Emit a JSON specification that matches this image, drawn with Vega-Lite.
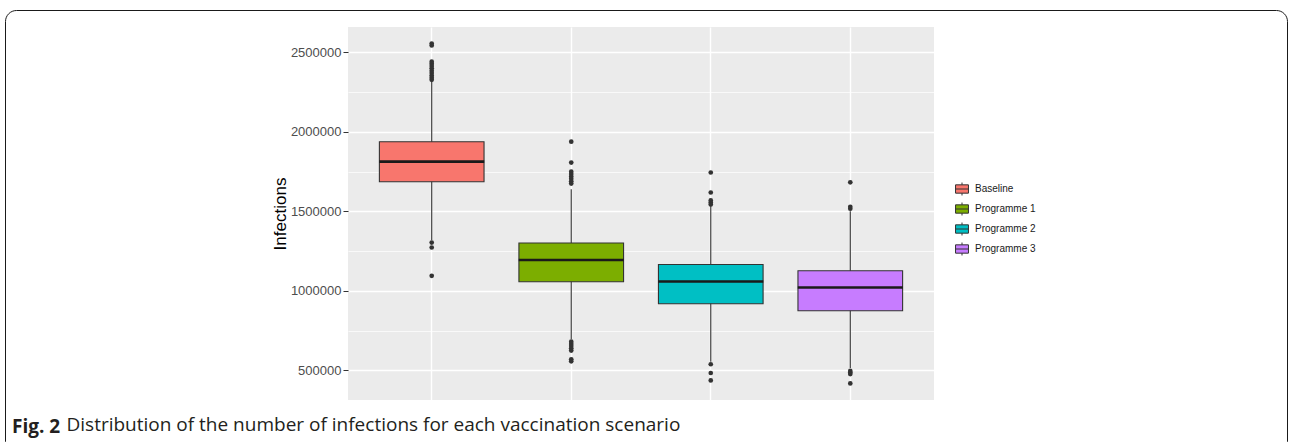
{
  "$schema": "https://vega.github.io/schema/vega-lite/v6.json",
  "width": 586,
  "height": 373,
  "autosize": "none",
  "padding": {"left": 348, "top": 27, "right": 358, "bottom": 42},
  "background": "white",
  "title": {"text": "Fig. 2", "orient": "bottom", "anchor": "start", "frame": "group", "dx": -336, "dy": -20, "offset": 0, "font": "Open Sans", "fontSize": 19, "fontWeight": "bold", "color": "#231f20", "baseline": "alphabetic"},
  "datasets": {
    "stats": [
      {"scenario": "Baseline", "lower": 1318000, "q1": 1686000, "median": 1812000, "q3": 1937000, "upper": 2315000},
      {"scenario": "Programme 1", "lower": 695000, "q1": 1057000, "median": 1194000, "q3": 1300000, "upper": 1638000},
      {"scenario": "Programme 2", "lower": 554000, "q1": 918000, "median": 1058000, "q3": 1165000, "upper": 1533000},
      {"scenario": "Programme 3", "lower": 515000, "q1": 874000, "median": 1021000, "q3": 1126000, "upper": 1500000}
    ],
    "outliers": [
      {"scenario": "Baseline", "value": 2555000},
      {"scenario": "Baseline", "value": 2543000},
      {"scenario": "Baseline", "value": 2441000},
      {"scenario": "Baseline", "value": 2428000},
      {"scenario": "Baseline", "value": 2414000},
      {"scenario": "Baseline", "value": 2399000},
      {"scenario": "Baseline", "value": 2384000},
      {"scenario": "Baseline", "value": 2369000},
      {"scenario": "Baseline", "value": 2354000},
      {"scenario": "Baseline", "value": 2340000},
      {"scenario": "Baseline", "value": 2327000},
      {"scenario": "Baseline", "value": 1303000},
      {"scenario": "Baseline", "value": 1272000},
      {"scenario": "Baseline", "value": 1094000},
      {"scenario": "Programme 1", "value": 1938000},
      {"scenario": "Programme 1", "value": 1806000},
      {"scenario": "Programme 1", "value": 1749000},
      {"scenario": "Programme 1", "value": 1734000},
      {"scenario": "Programme 1", "value": 1719000},
      {"scenario": "Programme 1", "value": 1704000},
      {"scenario": "Programme 1", "value": 1689000},
      {"scenario": "Programme 1", "value": 1674000},
      {"scenario": "Programme 1", "value": 680000},
      {"scenario": "Programme 1", "value": 666000},
      {"scenario": "Programme 1", "value": 652000},
      {"scenario": "Programme 1", "value": 638000},
      {"scenario": "Programme 1", "value": 624000},
      {"scenario": "Programme 1", "value": 569000},
      {"scenario": "Programme 1", "value": 556000},
      {"scenario": "Programme 2", "value": 1744000},
      {"scenario": "Programme 2", "value": 1618000},
      {"scenario": "Programme 2", "value": 1568000},
      {"scenario": "Programme 2", "value": 1555000},
      {"scenario": "Programme 2", "value": 1543000},
      {"scenario": "Programme 2", "value": 538000},
      {"scenario": "Programme 2", "value": 483000},
      {"scenario": "Programme 2", "value": 436000},
      {"scenario": "Programme 3", "value": 1682000},
      {"scenario": "Programme 3", "value": 1528000},
      {"scenario": "Programme 3", "value": 1516000},
      {"scenario": "Programme 3", "value": 496000},
      {"scenario": "Programme 3", "value": 486000},
      {"scenario": "Programme 3", "value": 476000},
      {"scenario": "Programme 3", "value": 417000}
    ]
  },
  "encoding": {
    "x": {
      "field": "scenario",
      "type": "nominal",
      "scale": {"type": "band", "paddingInner": 0.25, "paddingOuter": 0.225},
      "axis": {
        "title": "Distribution of the number of infections for each vaccination scenario",
        "labels": false, "ticks": false, "domain": false,
        "grid": true, "gridColor": "white", "gridWidth": 1.4, "bandPosition": 0.5,
        "titleX": -282, "titleY": 30, "titleAlign": "left", "titleBaseline": "alphabetic",
        "titleFont": "Open Sans", "titleFontSize": 19, "titleFontWeight": "normal", "titleColor": "#231f20"
      }
    }
  },
  "layer": [
    {
      "data": {"name": "stats"},
      "mark": {"type": "rule", "strokeWidth": 1.1},
      "encoding": {
        "y": {
          "field": "lower", "type": "quantitative", "title": "Infections",
          "scale": {"domain": [313000, 2659000], "nice": false, "zero": false},
          "axis": {
            "values": [500000, 750000, 1000000, 1250000, 1500000, 1750000, 2000000, 2250000, 2500000],
            "format": "d",
            "labelExpr": "datum.value % 500000 === 0 ? datum.label : ''",
            "grid": true, "gridColor": "white",
            "gridWidth": {"condition": {"test": "datum.value % 500000 !== 0", "value": 0.7}, "value": 1.4},
            "tickOpacity": {"condition": {"test": "datum.value % 500000 !== 0", "value": 0}, "value": 1},
            "tickColor": "#333333", "tickSize": 5, "tickWidth": 1, "domain": false,
            "labelFont": "Liberation Sans", "labelFontSize": 13, "labelColor": "#4d4d4d", "labelPadding": 2,
            "titleFont": "Liberation Sans", "titleFontSize": 17, "titleColor": "#000000", "titleFontWeight": "normal",
            "titleX": -68, "titleBaseline": "middle"
          }
        },
        "y2": {"field": "upper"},
        "stroke": {
          "datum": 1, "type": "quantitative",
          "scale": {"domain": [0, 1], "range": ["#333333", "#333333"]},
          "legend": {
            "title": null, "orient": "none", "direction": "horizontal",
            "legendX": -343, "legendY": -17,
            "gradientLength": 842, "gradientThickness": 0.01, "gradientOpacity": 0, "gradientStrokeWidth": 0,
            "labels": false, "labelExpr": "''", "labelOpacity": 0, "labelFontSize": 1, "labelOffset": 0,
            "padding": 220,
            "strokeColor": "#1a1a1a", "cornerRadius": 11
          }
        }
      }
    },
    {
      "data": {"name": "stats"},
      "mark": {"type": "bar", "stroke": "#333333", "strokeWidth": 1.1, "opacity": 1},
      "encoding": {
        "y": {"field": "q1", "type": "quantitative", "title": "Infections"},
        "y2": {"field": "q3"},
        "fill": {
          "field": "scenario", "type": "nominal",
          "scale": {"range": ["#F8766D", "#7CAE00", "#00BFC4", "#C77CFF"]},
          "legend": {
            "title": null, "orient": "none", "legendX": 605, "legendY": 153,
            "symbolType": "M-0.76,-0.49H0.76V0.49H-0.76Z M-0.76,0H0.76 M0,-0.49V-0.76 M0,0.49V0.76",
            "symbolSize": 289, "symbolStrokeColor": "#333333", "symbolStrokeWidth": 1, "symbolOpacity": 1,
            "labelFont": "Liberation Sans", "labelFontSize": 10, "labelColor": "#1a1a1a",
            "labelOffset": 4, "rowPadding": 2, "padding": 0
          }
        }
      }
    },
    {
      "data": {"name": "stats"},
      "mark": {"type": "tick", "color": "#1a1a1a", "thickness": 2.6, "size": 105, "opacity": 1},
      "encoding": {
        "y": {"field": "median", "type": "quantitative", "title": "Infections"}
      }
    },
    {
      "data": {"name": "outliers"},
      "mark": {"type": "circle", "color": "#333333", "size": 22, "opacity": 1},
      "encoding": {
        "y": {"field": "value", "type": "quantitative", "title": "Infections"}
      }
    }
  ],
  "config": {
    "view": {"fill": "#ebebeb", "stroke": null}
  }
}
